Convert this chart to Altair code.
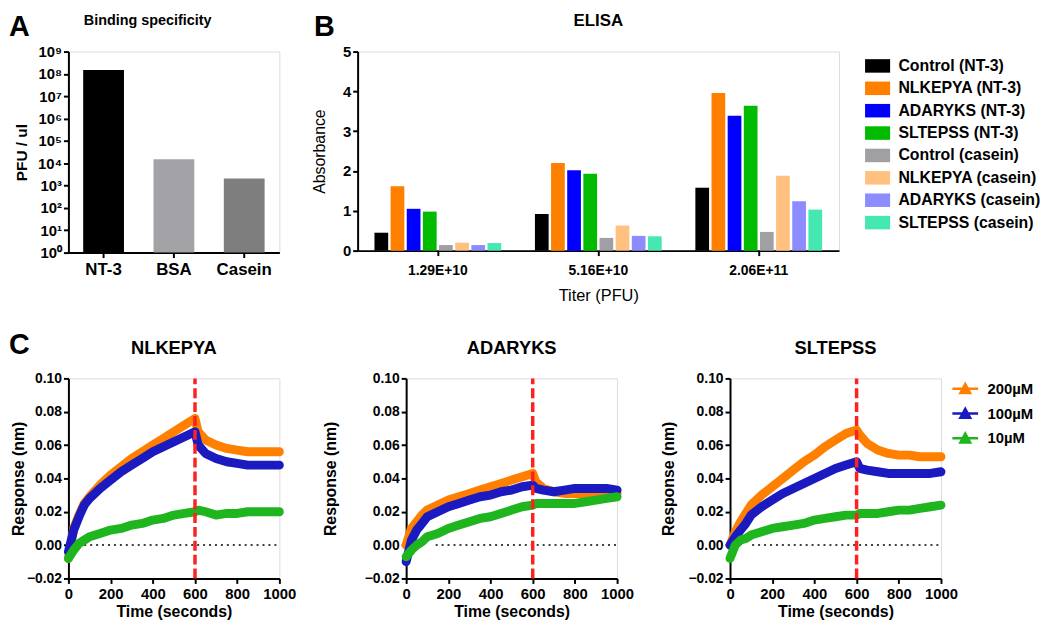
import altair as alt
import pandas as pd

FONT = "Liberation Sans"

# ---------------- Panel A : binding specificity ----------------
a_targets = ["NT-3", "BSA", "Casein"]
a_pfu = [1.5e8, 1.5e4, 2.1e3]
a_colors = ["#000000", "#A3A3A7", "#7E7E7E"]
a_ticks = [1, 10, 100, 1e3, 1e4, 1e5, 1e6, 1e7, 1e8, 1e9]

# ---------------- Panel B : ELISA ----------------
b_titers = ["1.29E+10", "5.16E+10", "2.06E+11"]
b_series = ["Control (NT-3)", "NLKEPYA (NT-3)", "ADARYKS (NT-3)", "SLTEPSS (NT-3)",
            "Control (casein)", "NLKEPYA (casein)", "ADARYKS (casein)", "SLTEPSS (casein)"]
b_colors = ["#000000", "#FF7F00", "#0000FF", "#00BB00",
            "#A0A0A4", "#FFC080", "#8C8CFF", "#44E8B0"]
b_control_nt3 = [0.45, 0.92, 1.58]
b_nlkepya_nt3 = [1.62, 2.20, 3.96]
b_adaryks_nt3 = [1.05, 2.02, 3.39]
b_sltepss_nt3 = [0.98, 1.93, 3.64]
b_control_casein = [0.14, 0.32, 0.47]
b_nlkepya_casein = [0.20, 0.63, 1.88]
b_adaryks_casein = [0.14, 0.37, 1.24]
b_sltepss_casein = [0.19, 0.36, 1.03]
b_yticks = [0, 1, 2, 3, 4, 5]

# ---------------- Panel C : binding kinetics ----------------
c_conc = ["200µM", "100µM", "10µM"]
c_colors = ["#FF7F00", "#1A1AC0", "#1FB51F"]
c_time = [0, 25, 50, 75, 100, 150, 200, 250, 300, 350, 400, 450, 500, 550, 600,
          615, 650, 700, 750, 800, 850, 900, 950, 1000]
c_xticks = [0, 200, 400, 600, 800, 1000]
c_yticks = [-0.02, 0.0, 0.02, 0.04, 0.06, 0.08, 0.10]
c_assoc_end = 600
c_zero_start = [75, 140, 105]

nlkepya_200 = [-0.008, 0.010, 0.018, 0.025, 0.029, 0.036, 0.042, 0.047, 0.052, 0.056, 0.060, 0.064,
               0.068, 0.072, 0.076, 0.068, 0.063, 0.060, 0.058, 0.057, 0.056, 0.056, 0.056, 0.056]
nlkepya_100 = [-0.004, 0.009, 0.017, 0.024, 0.028, 0.034, 0.039, 0.044, 0.048, 0.052, 0.056, 0.059,
               0.062, 0.065, 0.068, 0.060, 0.055, 0.052, 0.050, 0.049, 0.048, 0.048, 0.048, 0.048]
nlkepya_10 = [-0.008, -0.003, 0.001, 0.003, 0.005, 0.007, 0.009, 0.010, 0.012, 0.013, 0.015, 0.016,
              0.018, 0.019, 0.020, 0.021, 0.020, 0.018, 0.019, 0.019, 0.020, 0.020, 0.020, 0.020]

adaryks_200 = [0.000, 0.010, 0.014, 0.018, 0.021, 0.024, 0.027, 0.029, 0.031, 0.033, 0.035, 0.037,
               0.039, 0.041, 0.043, 0.038, 0.034, 0.032, 0.031, 0.031, 0.031, 0.031, 0.031, 0.031]
adaryks_100 = [-0.010, 0.003, 0.009, 0.013, 0.017, 0.020, 0.023, 0.025, 0.027, 0.029, 0.030, 0.032,
               0.033, 0.035, 0.036, 0.034, 0.033, 0.032, 0.033, 0.034, 0.034, 0.034, 0.034, 0.033]
adaryks_10 = [-0.007, -0.003, 0.000, 0.002, 0.005, 0.007, 0.010, 0.012, 0.014, 0.016, 0.017, 0.019,
              0.021, 0.023, 0.024, 0.025, 0.025, 0.025, 0.025, 0.025, 0.026, 0.027, 0.028, 0.029]

sltepss_200 = [0.000, 0.008, 0.014, 0.019, 0.024, 0.030, 0.035, 0.040, 0.045, 0.050, 0.054, 0.059,
               0.063, 0.067, 0.069, 0.066, 0.061, 0.057, 0.055, 0.054, 0.054, 0.053, 0.053, 0.053]
sltepss_100 = [0.000, 0.005, 0.009, 0.013, 0.018, 0.023, 0.027, 0.031, 0.034, 0.037, 0.040, 0.043,
               0.046, 0.048, 0.050, 0.046, 0.045, 0.044, 0.043, 0.043, 0.043, 0.043, 0.043, 0.044]
sltepss_10 = [-0.008, 0.000, 0.003, 0.004, 0.006, 0.008, 0.010, 0.011, 0.012, 0.013, 0.015, 0.016,
              0.017, 0.018, 0.018, 0.019, 0.019, 0.019, 0.020, 0.021, 0.021, 0.022, 0.023, 0.024]


def ax(**kw):
    base = dict(domainColor="black", domainWidth=2, tickColor="black", tickWidth=2, tickSize=5,
                labelFont=FONT, labelFontWeight="bold", labelColor="black",
                labelOverlap=False, labelFlush=False,
                titleFont=FONT, titleColor="black", grid=False)
    base.update(kw)
    return alt.Axis(**base)


def label_text(txt, dx, dy, size, align="left", baseline="top", weight="bold"):
    return alt.Chart(pd.DataFrame({"t": [txt]})).mark_text(
        font=FONT, fontSize=size, fontWeight=weight, align=align, baseline=baseline, color="black"
    ).encode(text="t:N", x=alt.value(dx), y=alt.value(dy))


# ---------- A ----------
A_W, A_H = 213, 203
dfA = pd.DataFrame({"target": a_targets, "pfu": a_pfu, "floor": [a_ticks[0]] * len(a_targets)})
sup = "['\u2070','\u00b9','\u00b2','\u00b3','\u2074','\u2075','\u2076','\u2077','\u2078','\u2079']"
barsA = alt.Chart(dfA).mark_bar().encode(
    x=alt.X("target:N", sort=a_targets, scale=alt.Scale(paddingInner=0.42, paddingOuter=0.21),
            axis=ax(title=None, labelAngle=0, labelFontSize=17, labelPadding=4)),
    y=alt.Y("pfu:Q", scale=alt.Scale(type="log", domain=[1, 1e9], nice=False),
            axis=ax(values=a_ticks, labelExpr="'10' + " + sup + "[round(log(datum.value)/LN10)]",
                    title="PFU / ul", titleFontSize=15.5, titleFontWeight="bold",
                    labelFontSize=15, labelPadding=2, titlePadding=8)),
    y2="floor:Q",
    color=alt.Color("target:N", scale=alt.Scale(domain=a_targets, range=a_colors), legend=None),
)
chartA = alt.layer(
    barsA,
    label_text("A", -60, -39, 29),
    label_text("Binding specificity", 80, -27, 14.5, align="center", baseline="alphabetic"),
).properties(width=A_W, height=A_H)

# ---------- B ----------
B_W, B_H = 486, 201
b_vals = [b_control_nt3, b_nlkepya_nt3, b_adaryks_nt3, b_sltepss_nt3,
          b_control_casein, b_nlkepya_casein, b_adaryks_casein, b_sltepss_casein]
rowsB = []
for s, vals in zip(b_series, b_vals):
    for t, v in zip(b_titers, vals):
        rowsB.append({"titer": t, "series": s, "absorbance": v})
dfB = pd.DataFrame(rowsB)

legB = alt.Legend(title=None, orient="none", legendX=B_W + 28, legendY=3.5,
                  symbolType="M-1.15,-0.62L1.15,-0.62L1.15,0.62L-1.15,0.62Z",
                  symbolSize=484, symbolStrokeWidth=0,
                  labelFont=FONT, labelFontSize=16, labelFontWeight="bold", labelColor="black",
                  labelOffset=10, rowPadding=3.6, padding=0, labelLimit=300)
barsB = alt.Chart(dfB).mark_bar().encode(
    x=alt.X("titer:N", sort=b_titers, scale=alt.Scale(paddingInner=0.21, paddingOuter=0.105),
            axis=ax(title="Titer (PFU)", labelAngle=0, labelFontSize=14, labelPadding=8,
                    titleFontSize=16.5, titleFontWeight="normal", titlePadding=10)),
    xOffset=alt.XOffset("series:N", sort=b_series, scale=alt.Scale(paddingInner=0.15, paddingOuter=0)),
    y=alt.Y("absorbance:Q", scale=alt.Scale(domain=[0, 5], nice=False),
            axis=ax(values=b_yticks, title="Absorbance", titleFontSize=16, titleFontWeight="normal",
                    labelFontSize=15, labelPadding=2, titlePadding=15)),
    color=alt.Color("series:N", sort=b_series, scale=alt.Scale(domain=b_series, range=b_colors),
                    legend=legB),
)
chartB = alt.layer(
    barsB,
    label_text("B", -44, -39, 29),
    label_text("ELISA", B_W / 2, -26, 17, align="center", baseline="alphabetic"),
).properties(width=B_W, height=B_H)


# ---------- C ----------
C_W, C_H = 213, 202


def panel_c(name, series_vals, zero_start, show_letter=False, show_legend=False, title_pad=6):
    rows = []
    for conc, vals in zip(c_conc, series_vals):
        for t, v in zip(c_time, vals):
            rows.append({"time": t, "resp": v, "conc": conc})
    df = pd.DataFrame(rows)
    xsc = alt.Scale(domain=[0, 1000], nice=False)
    ysc = alt.Scale(domain=[-0.02, 0.10], nice=False)
    xaxis = ax(values=c_xticks, format="d", title="Time (seconds)", labelFontSize=15,
               labelPadding=3, titleFontSize=16, titleFontWeight="bold", titlePadding=2)
    yaxis = ax(values=c_yticks, format=".2f", title="Response (nm)", labelFontSize=14,
               labelPadding=2, titleFontSize=16, titleFontWeight="bold", titlePadding=title_pad)
    if show_legend:
        leg = alt.Legend(title=None, orient="none", legendX=C_W + 10, legendY=-4,
                         symbolType="M-1,0L1,0M-0.38,0.33L0,-0.36L0.38,0.33ZM-0.2,0.17L0,-0.18L0.2,0.17Z",
                         symbolSize=676, symbolStrokeWidth=2.5,
                         labelFont=FONT, labelFontSize=15, labelFontWeight="bold", labelColor="black",
                         labelOffset=8, rowPadding=1, padding=0)
    else:
        leg = None
    lines = alt.Chart(df).mark_line(strokeWidth=9, strokeJoin="round", strokeCap="round").encode(
        x=alt.X("time:Q", scale=xsc, axis=xaxis),
        y=alt.Y("resp:Q", scale=ysc, axis=yaxis),
        color=alt.Color("conc:N", sort=c_conc, scale=alt.Scale(domain=c_conc, range=c_colors), legend=leg),
    )
    zero = alt.Chart(pd.DataFrame({"time": [zero_start], "time2": [1000], "resp": [0.0]})).mark_rule(
        color="black", strokeWidth=1.5, strokeDash=[2, 4]
    ).encode(x=alt.X("time:Q", scale=xsc, axis=xaxis), x2="time2:Q",
             y=alt.Y("resp:Q", scale=ysc, axis=yaxis))
    red = alt.Chart(pd.DataFrame({"time": [c_assoc_end], "resp": [-0.02], "resp2": [0.10]})).mark_rule(
        color="#FF2020", strokeWidth=3.5, strokeDash=[10, 4]
    ).encode(x=alt.X("time:Q", scale=xsc, axis=xaxis),
             y=alt.Y("resp:Q", scale=ysc, axis=yaxis), y2="resp2:Q")
    layers = [zero, lines, red,
              label_text(name, C_W / 2, -25, 18.5, align="center", baseline="alphabetic")]
    if show_letter:
        layers.append(label_text("C", -60, -48, 29))
    return alt.layer(*layers).properties(width=C_W, height=C_H)


c1 = panel_c("NLKEPYA", [nlkepya_200, nlkepya_100, nlkepya_10], c_zero_start[0], show_letter=True, title_pad=0)
c2 = panel_c("ADARYKS", [adaryks_200, adaryks_100, adaryks_10], c_zero_start[1], title_pad=26)
c3 = panel_c("SLTEPSS", [sltepss_200, sltepss_100, sltepss_10], c_zero_start[2], show_legend=True, title_pad=12)

top = alt.hconcat(chartA, chartB, spacing=31).resolve_scale(color="independent")
bottom = alt.hconcat(c1, c2, c3, spacing=25).resolve_scale(color="independent")

chart = alt.vconcat(top, bottom, spacing=26).resolve_scale(color="independent").properties(
    padding=0, background="white"
).configure_view(stroke=None).configure(font=FONT)

chart.save("out.html", embed_options={"renderer": "svg", "actions": False})
